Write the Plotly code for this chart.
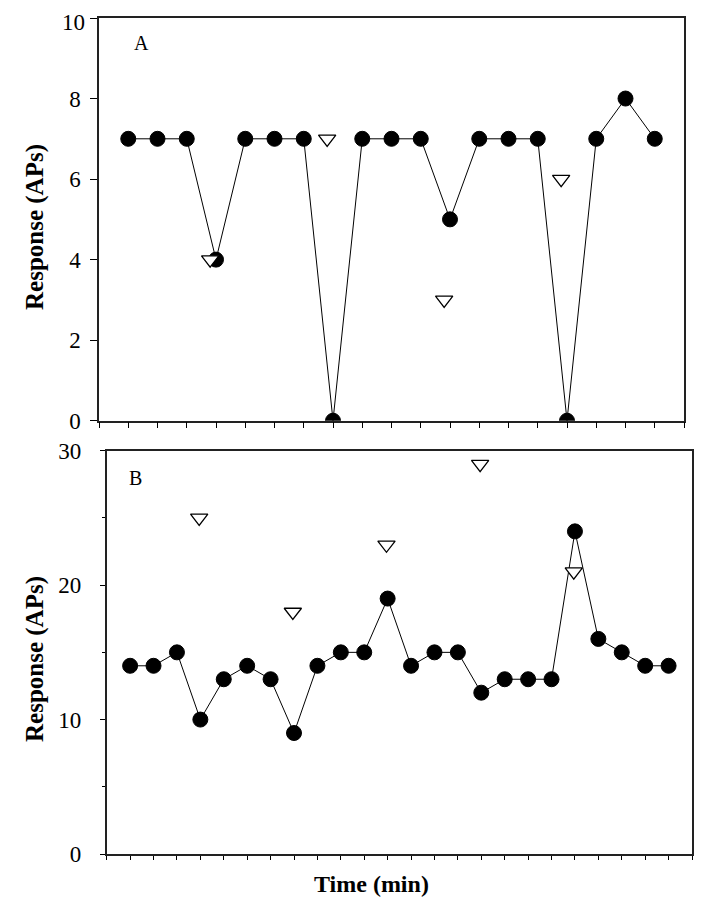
import plotly.graph_objects as go

# Panel A data
a_x = list(range(1, 20))
a_y = [7, 7, 7, 4, 7, 7, 7, 0, 7, 7, 7, 5, 7, 7, 7, 0, 7, 8, 7]
a_tri_x = [3.8, 7.8, 11.8, 15.8]
a_tri_y = [4, 7, 3, 6]

# Panel B data
b_x = list(range(1, 25))
b_y = [14, 14, 15, 10, 13, 14, 13, 9, 14, 15, 15, 19, 14, 15, 15, 12, 13, 13, 13, 24, 16, 15, 14, 14]
b_tri_x = [3.95, 7.95, 11.95, 15.95, 19.95]
b_tri_y = [25, 18, 23, 29, 21]

a_yticks = [0, 2, 4, 6, 8, 10]
a_yticktext = ["0", "2", "4", "6", "8", ""]  # top label "10" placed as annotation below
a_top_label = "10"
b_yticks = [0, 10, 20, 30]

FONT = "Liberation Serif"
OFF = 8  # page body margin
W, H = 704 - OFF, 900 - OFF


def px(x):
    return (x - OFF) / W


def py(y):
    return 1 - (y - OFF) / H


fig = go.Figure()
circ = dict(symbol="circle", size=15, color="black", line=dict(color="black", width=1))
tri = dict(symbol="triangle-down", size=15, color="white", line=dict(color="black", width=1.3))

fig.add_trace(go.Scatter(x=a_x, y=a_y, mode="lines+markers", marker=circ,
                         line=dict(color="black", width=1), xaxis="x", yaxis="y", showlegend=False))
fig.add_trace(go.Scatter(x=a_tri_x, y=a_tri_y, mode="markers", marker=tri,
                         xaxis="x", yaxis="y", showlegend=False))
fig.add_trace(go.Scatter(x=b_x, y=b_y, mode="lines+markers", marker=circ,
                         line=dict(color="black", width=1), xaxis="x2", yaxis="y2", showlegend=False))
fig.add_trace(go.Scatter(x=b_tri_x, y=b_tri_y, mode="markers", marker=tri,
                         xaxis="x2", yaxis="y2", showlegend=False))

axis_common = dict(showline=True, linecolor="#222", linewidth=1.5, mirror=True, automargin=False,
                   showgrid=False, zeroline=False, ticks="outside", tickcolor="black", tickwidth=1,
                   ticklabeloverflow="allow")

fig.update_layout(
    width=W, height=H,
    margin=dict(l=0, r=0, t=0, b=0, autoexpand=False),
    paper_bgcolor="white", plot_bgcolor="white",
    font=dict(family=FONT, color="black", size=22),
    xaxis=dict(domain=[px(99), px(684)], range=[0, 20], tickvals=list(range(0, 21)),
               showticklabels=False, ticklen=6, anchor="y", **axis_common),
    yaxis=dict(domain=[py(420.7), py(18)], range=[0, 10], tickvals=a_yticks, ticktext=a_yticktext,
               ticklen=7, ticklabelstandoff=5, anchor="x",
               tickfont=dict(family=FONT, size=23), **axis_common),
    xaxis2=dict(domain=[px(106.7), px(692)], range=[0, 25], tickvals=list(range(0, 26)),
                showticklabels=False, ticklen=4, anchor="y2", **axis_common),
    yaxis2=dict(domain=[py(854), py(450.7)], range=[0, 30], tickvals=b_yticks,
                ticklen=5, ticklabelstandoff=14, anchor="x2",
                minor=dict(tickvals=[5, 15, 25], ticklen=3, ticks="outside", tickcolor="black"),
                tickfont=dict(family=FONT, size=23), **axis_common),
    annotations=[
        dict(text=a_top_label, x=px(99 - 7 - 5), y=a_yticks[-1], xref="paper", yref="y",
             xanchor="right", yanchor="middle", yshift=-4, showarrow=False,
             font=dict(family=FONT, size=23)),
        dict(text="A", x=1.44, y=9.38, xref="x", yref="y", showarrow=False,
             xanchor="center", yanchor="middle", font=dict(family=FONT, size=20)),
        dict(text="B", x=1.23, y=27.95, xref="x2", yref="y2", showarrow=False,
             xanchor="center", yanchor="middle", font=dict(family=FONT, size=20)),
        dict(text="<b>Response (APs)</b>", x=px(35), y=py(227), xref="paper", yref="paper",
             xanchor="center", yanchor="middle",
             textangle=-90, showarrow=False, font=dict(family=FONT, size=25)),
        dict(text="<b>Response (APs)</b>", x=px(35), y=py(659), xref="paper", yref="paper",
             xanchor="center", yanchor="middle",
             textangle=-90, showarrow=False, font=dict(family=FONT, size=25)),
        dict(text="<b>Time (min)</b>", x=px(371.5), y=py(884), xref="paper", yref="paper",
             xanchor="center", yanchor="middle",
             showarrow=False, font=dict(family=FONT, size=24)),
    ],
)

fig.write_html("out.html")
